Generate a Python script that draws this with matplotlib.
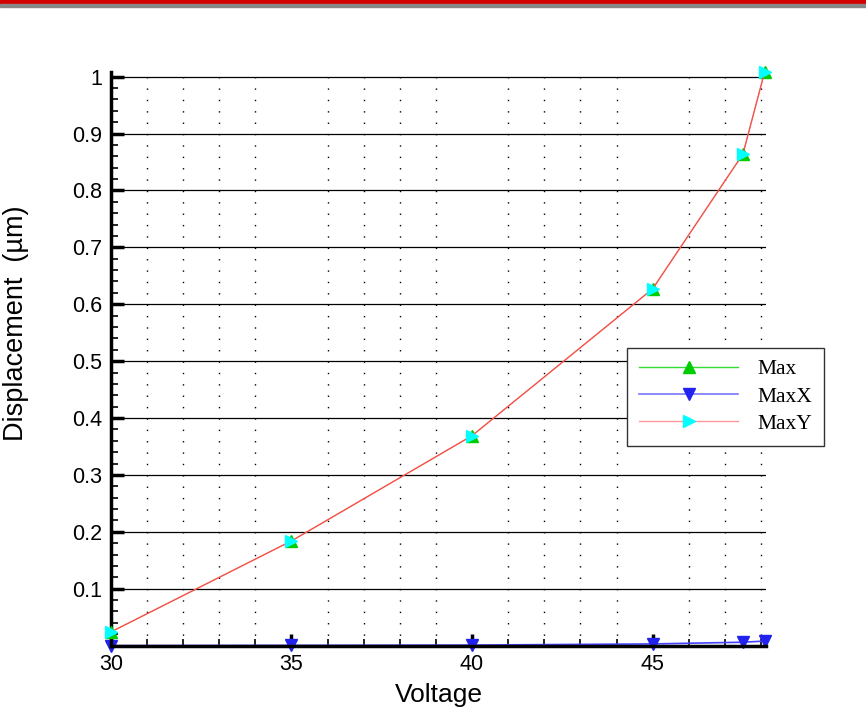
import matplotlib.pyplot as plt
from matplotlib.patches import Rectangle
from matplotlib.ticker import MultipleLocator, FixedLocator

# data
voltage = [30, 35, 40, 45, 47.5, 48.1]
disp_max = [0.024, 0.184, 0.369, 0.627, 0.864, 1.008]
disp_max_x = [0.0, 0.0005, 0.001, 0.003, 0.006, 0.008]
disp_max_y = [0.024, 0.184, 0.369, 0.627, 0.864, 1.008]
y_ticks = [0.1, 0.2, 0.3, 0.4, 0.5, 0.6, 0.7, 0.8, 0.9, 1.0]
y_tick_labels = ['0.1', '0.2', '0.3', '0.4', '0.5', '0.6', '0.7', '0.8', '0.9', '1']
x_ticks = [30, 35, 40, 45]

fig = plt.figure(figsize=(8.66, 7.23), dpi=100)
ax = fig.add_axes([0.128, 0.107, 0.757, 0.793])

# window title bar remnant at the top
fig.patches.append(Rectangle((0, 0.994), 1, 0.006, transform=fig.transFigure,
                             color='#d40000', zorder=0))
fig.patches.append(Rectangle((0, 0.991), 1, 0.003, transform=fig.transFigure,
                             color='#888888', zorder=0))

ax.plot(voltage, disp_max, color='#33dd33', lw=0.5, marker='^', ms=9,
        mfc='#00cc00', mec='#00cc00', label='Max', clip_on=False, zorder=3)
ax.plot(voltage, disp_max_x, color='#4444ff', lw=1.2, marker='v', ms=9,
        mfc='#2222ee', mec='#2222ee', label='MaxX', clip_on=False, zorder=2)
ax.plot(voltage, disp_max_y, color='#ff4d4d', lw=1, marker='>', ms=9,
        mfc='#00ffff', mec='#00ffff', label='MaxY', clip_on=False, zorder=4)

ax.set_xlim(30, 48.15)
ax.set_ylim(0, 1.0076)

ax.xaxis.set_major_locator(FixedLocator(x_ticks))
ax.xaxis.set_minor_locator(MultipleLocator(1))
ax.yaxis.set_major_locator(FixedLocator(y_ticks))
ax.set_yticklabels(y_tick_labels)
ax.yaxis.set_minor_locator(MultipleLocator(0.02))

for s in ['top', 'right']:
    ax.spines[s].set_visible(False)
for s in ['left', 'bottom']:
    ax.spines[s].set_linewidth(2.5)

ax.tick_params(which='major', direction='in', length=9, width=2.5,
               labelsize=15.5, pad=6)
ax.tick_params(which='minor', direction='in', length=5, width=1.2)

# solid horizontal grid on major ticks, dotted minor grid (dots every 0.02)
ax.grid(True, which='major', axis='y', color='black', lw=0.9)
ax.grid(True, which='minor', axis='x', color='black', lw=1.0, ls=(0.5, (1, 7.19)))
ax.set_axisbelow(True)

for lab in ax.get_xticklabels() + ax.get_yticklabels():
    lab.set_fontfamily('Liberation Sans')

ax.set_xlabel('Voltage', fontsize=19, family='Liberation Sans', labelpad=6)
ax.set_ylabel('Displacement  (µm)', fontsize=19.5, family='Liberation Sans')
ax.yaxis.set_label_coords(-0.125, 0.562)

leg = ax.legend(loc='upper left', bbox_to_anchor=(0.788, 0.52), frameon=True,
                fancybox=False, edgecolor='#333333', framealpha=1,
                prop={'family': 'Liberation Serif', 'size': 15.5},
                handlelength=4.6, labelspacing=0.33, borderpad=0.55,
                handletextpad=0.9, borderaxespad=0)
leg.get_frame().set_linewidth(1)
leg.set_zorder(10)
leg.get_lines()[0].set_linewidth(1)
leg.get_lines()[1].set_color('#7777ff')
leg.get_lines()[2].set_color('#ff9999')

fig.savefig('out.png', dpi=100)
